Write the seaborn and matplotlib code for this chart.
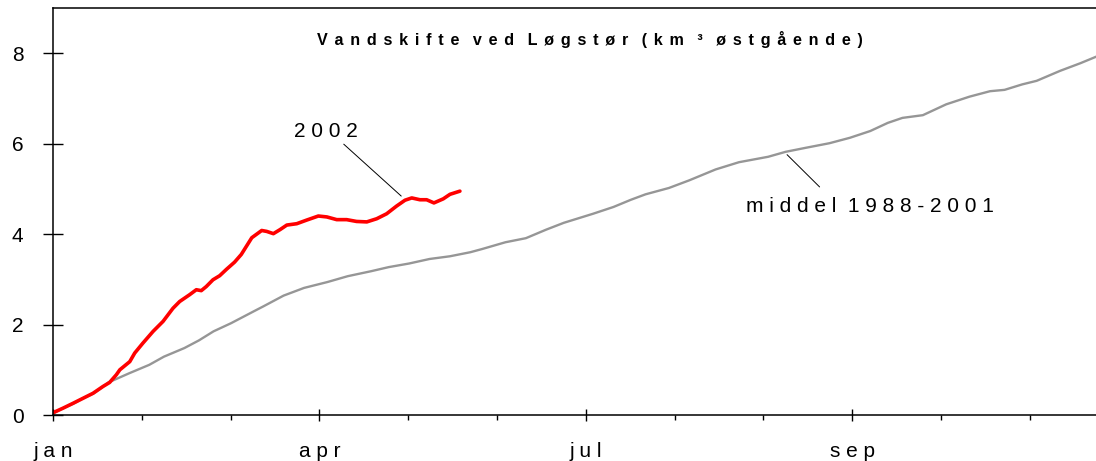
import matplotlib
matplotlib.use("Agg")
import matplotlib.pyplot as plt
import seaborn as sns
import pandas as pd
from matplotlib.ticker import FixedLocator

# Data (x in days from 1 Jan, y in km3 eastgoing)
DAYS_PER_MONTH = 365 / 12

mean_days = [0, 3, 7, 10, 14, 17, 19, 26, 33, 38, 45, 50, 55, 61, 69, 72, 79, 86, 94,
             101, 109, 115, 122, 129, 136, 143, 147, 155, 162, 169, 175, 185, 192, 198,
             203, 211, 218, 227, 235, 245, 251, 258, 266, 273, 280, 286, 291, 298, 306,
             314, 321, 326, 332, 337, 345, 352, 358]
mean_vals = [0.03, 0.14, 0.25, 0.36, 0.48, 0.62, 0.72, 0.92, 1.11, 1.29, 1.48, 1.65, 1.85,
             2.03, 2.30, 2.40, 2.64, 2.81, 2.94, 3.07, 3.18, 3.27, 3.35, 3.45, 3.51, 3.60,
             3.67, 3.82, 3.91, 4.10, 4.25, 4.45, 4.60, 4.76, 4.88, 5.02, 5.19, 5.43, 5.59,
             5.71, 5.82, 5.91, 6.01, 6.13, 6.28, 6.46, 6.57, 6.63, 6.87, 7.04, 7.16, 7.19,
             7.31, 7.39, 7.61, 7.78, 7.94]

y2002_days = [0, 3.4, 6.9, 10.3, 13.7, 17.1, 19.4, 21.7, 22.9, 26.3, 28.0, 30.8, 34.3,
              37.7, 41.1, 43.4, 46.8, 49.1, 50.8, 52.5, 54.8, 57.1, 59.4, 62.2, 64.5, 68.1,
              71.5, 73.2, 75.5, 77.8, 80.1, 83.5, 86.9, 90.9, 93.8, 97.2, 100.6, 104.0,
              107.5, 110.9, 114.3, 117.7, 120.6, 122.9, 125.7, 128.0, 130.5, 133.7, 136.0,
              139.4]
y2002_vals = [0.05, 0.15, 0.26, 0.37, 0.48, 0.63, 0.72, 0.89, 1.00, 1.18, 1.37, 1.59, 1.85,
              2.07, 2.36, 2.51, 2.66, 2.77, 2.75, 2.84, 2.99, 3.08, 3.22, 3.38, 3.55, 3.92,
              4.08, 4.06, 4.01, 4.10, 4.20, 4.23, 4.31, 4.40, 4.38, 4.32, 4.32, 4.28, 4.27,
              4.34, 4.45, 4.62, 4.75, 4.80, 4.76, 4.76, 4.69, 4.78, 4.88, 4.95]

month_labels = ["jan", "apr", "jul", "sep"]
y_ticks = [0, 2, 4, 6, 8]

TITLE = "Vandskifte ved Løgstør (km ³ østgående)"


def spaced(text, gap=" ", word_gap="  "):
    return word_gap.join(gap.join(word) for word in text.split(" "))


mean_df = pd.DataFrame({"day": mean_days, "km3": mean_vals})
df_2002 = pd.DataFrame({"day": y2002_days, "km3": y2002_vals})

sns.set_style("ticks")
plt.rcParams["font.family"] = ["Liberation Sans", "DejaVu Sans"]
plt.rcParams["text.color"] = "black"

fig = plt.figure(figsize=(10.96, 4.61), dpi=100)
ax = fig.add_axes([53 / 1096, 46 / 461, 360 * 2.919 / 1096, 407 / 461])

sns.lineplot(data=mean_df, x="day", y="km3", ax=ax, color="#969696", linewidth=1.7,
             legend=False)
sns.lineplot(data=df_2002, x="day", y="km3", ax=ax, color="#ff0000", linewidth=2.6,
             legend=False, solid_capstyle="round")

ax.set_xlim(0, 360)
ax.set_ylim(0, 9)
ax.set_xlabel("")
ax.set_ylabel("")

ax.xaxis.set_major_locator(FixedLocator([i * 3 * DAYS_PER_MONTH for i in range(4)]))
ax.xaxis.set_minor_locator(FixedLocator([i * DAYS_PER_MONTH for i in range(12)]))
ax.set_xticklabels([spaced(m) for m in month_labels])
ax.set_yticks(y_ticks)
ax.set_yticklabels([str(v) for v in y_ticks])

ax.tick_params(axis="y", direction="inout", length=14.4, width=1, pad=14, labelsize=15,
               colors="black")
ax.tick_params(axis="x", which="major", direction="inout", length=8.6, width=1, pad=15,
               labelsize=15, colors="black")
ax.tick_params(axis="x", which="minor", direction="out", length=3.6, width=1,
               colors="black")

for side in ["left", "bottom", "top"]:
    ax.spines[side].set_visible(True)
    ax.spines[side].set_color("black")
    ax.spines[side].set_linewidth(1.1)
ax.spines["right"].set_visible(False)

# title sits inside the plot area
ax.text(184.0, 8.3, spaced(TITLE, gap="\u2004\u200a", word_gap="\u2002\u2004"),
        ha="center", va="center", fontsize=11.6, fontweight="bold")

# labels with leader lines
ax.text(93.5, 6.27, spaced("2002"), ha="center", va="center", fontsize=15)
ax.annotate("", xy=(120.0, 4.80), xytext=(98.9, 6.03),
            arrowprops=dict(arrowstyle="-", color="black", lw=0.7))
ax.text(237.4, 4.6, spaced("middel 1988-2001"), ha="left", va="center", fontsize=15)
ax.annotate("", xy=(250.8, 5.80), xytext=(263.3, 5.0),
            arrowprops=dict(arrowstyle="-", color="black", lw=0.7))

fig.savefig("out.png", dpi=100)
